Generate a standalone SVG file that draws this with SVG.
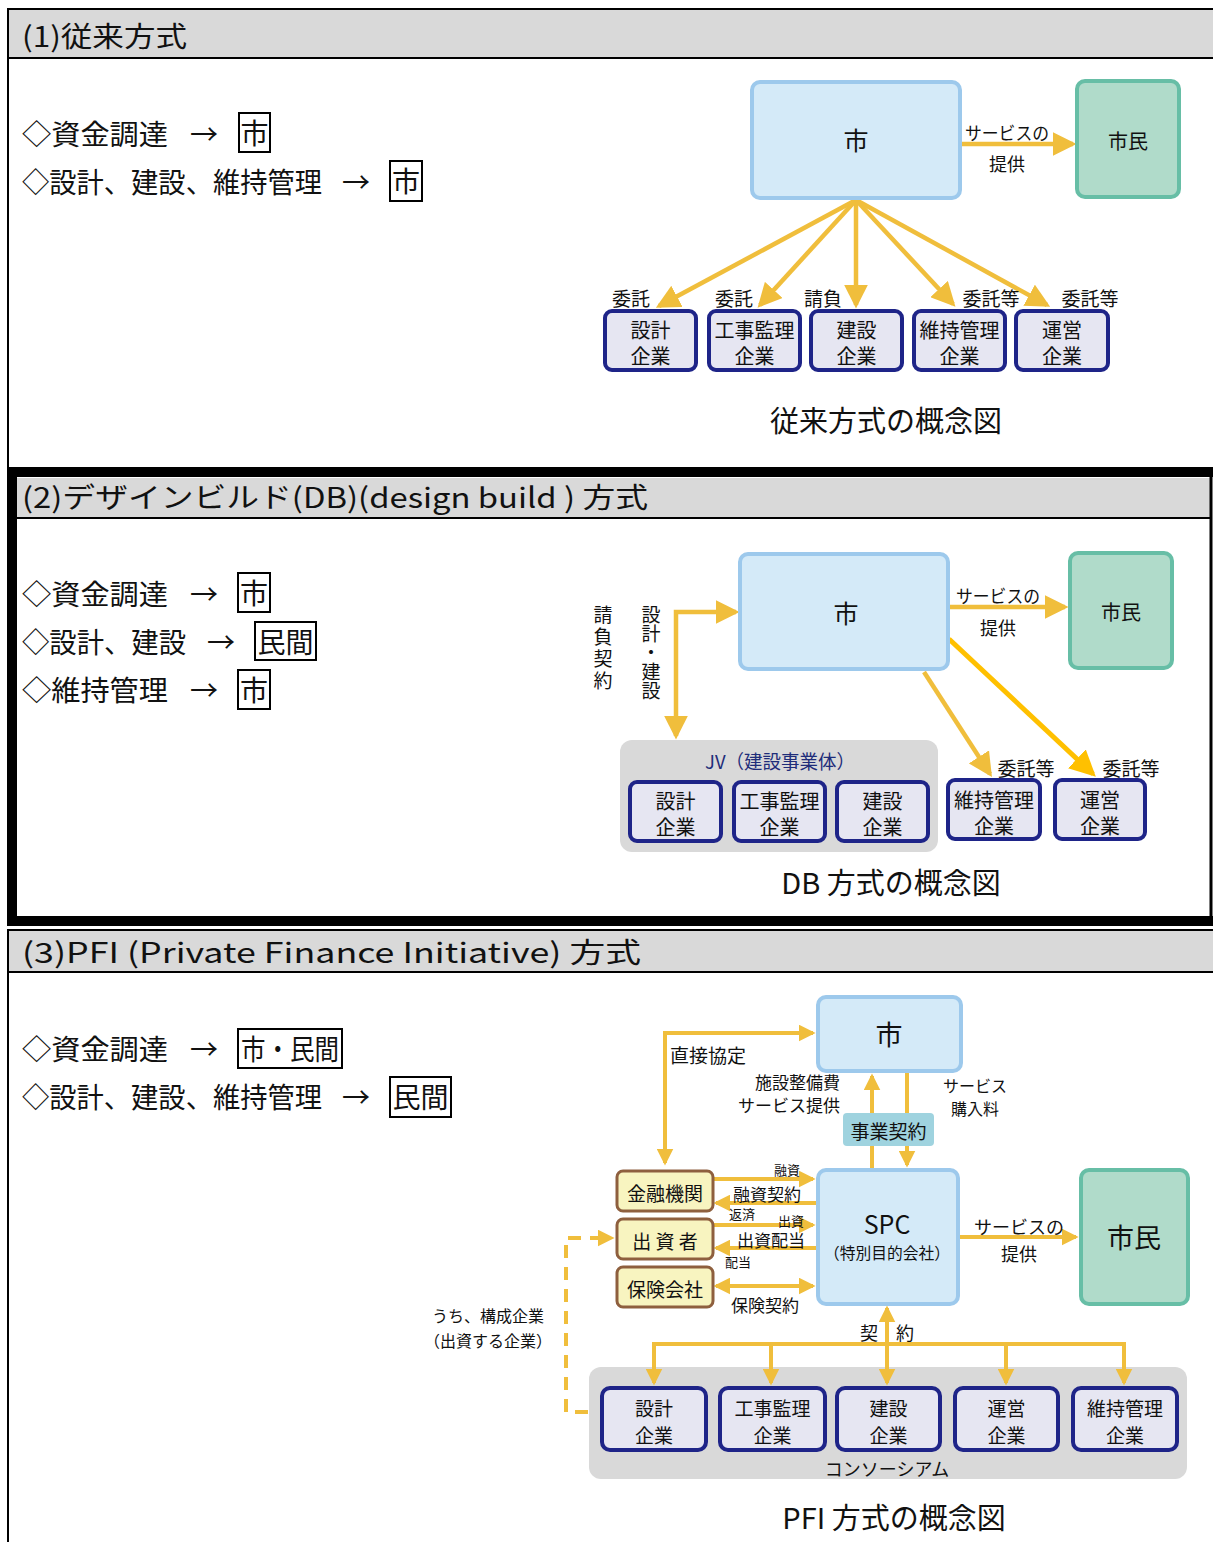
<svg xmlns="http://www.w3.org/2000/svg" width="1213" height="1542" viewBox="0 0 1213 1542">
<style>
text{font-family:"Noto Sans CJK JP","Noto Sans",sans-serif;fill:#111}
.c{text-anchor:middle;dominant-baseline:central}
.hd{font-size:28px}
.lt{font-size:28px}
.bx{fill:none;stroke:#000;stroke-width:2}
.blue{fill:#D4EAF8;stroke:#9DC9EC;stroke-width:4}
.green{fill:#B0DBCA;stroke:#67BEA6;stroke-width:4}
.co{fill:#E6E6F2;stroke:#1E2488;stroke-width:4}
.fin{fill:#F8F4C0;stroke:#8E5F3E;stroke-width:3}
.grp{fill:#D9D9D9}
.a1{fill:none;stroke:#F0BE3C;stroke-width:4.5;marker-end:url(#ah)}
.a3{fill:none;stroke:#F0BE3C;stroke-width:4;marker-end:url(#ahs)}
.bi3{fill:none;stroke:#F0BE3C;stroke-width:4;marker-start:url(#ahs);marker-end:url(#ahs)}
.f20{font-size:20px}
.f19{font-size:19px}
.f18{font-size:18px}
.f17{font-size:17px}
.f16{font-size:16px}
.f13{font-size:13px}
.cap{font-size:29px}
.vt{font-size:19px;writing-mode:vertical-rl}
</style>
<defs>
<marker id="ah" viewBox="0 0 10 10" refX="8.5" refY="5" markerWidth="24" markerHeight="24" markerUnits="userSpaceOnUse" orient="auto-start-reverse"><path d="M0,0 L10,5 L0,10z" fill="#F0BE3C"/></marker>
<marker id="ahy" viewBox="0 0 10 10" refX="8.5" refY="5" markerWidth="26" markerHeight="26" markerUnits="userSpaceOnUse" orient="auto-start-reverse"><path d="M0,0 L10,5 L0,10z" fill="#FFC000"/></marker>
<marker id="ahs" viewBox="0 0 10 10" refX="8.5" refY="5" markerWidth="17" markerHeight="17" markerUnits="userSpaceOnUse" orient="auto-start-reverse"><path d="M0,0 L10,5 L0,10z" fill="#F0BE3C"/></marker>
</defs>
<rect width="1213" height="1542" fill="#fff"/>

<!-- Section 1 frame -->
<g id="sec1-frame">
<line x1="8" y1="8" x2="8" y2="470" stroke="#000" stroke-width="2"/>
<rect x="8" y="9" width="1215" height="49" fill="#D9D9D9" stroke="#000" stroke-width="2"/>
<text x="22" y="47" class="hd" textLength="165" lengthAdjust="spacingAndGlyphs">(1)従来方式</text>
</g>
<g id="sec1-left">
<text x="22" y="145" class="lt" textLength="146" lengthAdjust="spacingAndGlyphs">◇資金調達</text>
<text x="204" y="133" class="lt c">→</text>
<rect x="239" y="113" width="31" height="39" class="bx"/>
<text x="254.5" y="132" class="lt c">市</text>
<text x="22" y="193" class="lt" textLength="300" lengthAdjust="spacingAndGlyphs">◇設計、建設、維持管理</text>
<text x="356" y="181" class="lt c">→</text>
<rect x="390" y="161" width="32" height="40" class="bx"/>
<text x="406" y="180" class="lt c">市</text>
</g>

<g id="sec1-connectors">
<line x1="962" y1="144" x2="1073" y2="144" class="a1"/>
<line x1="856" y1="200" x2="659" y2="306" class="a1"/>
<line x1="856" y1="200" x2="760" y2="305" class="a1"/>
<line x1="856" y1="200" x2="856" y2="305" class="a1"/>
<line x1="856" y1="200" x2="953" y2="304" class="a1"/>
<line x1="856" y1="200" x2="1047" y2="305" class="a1"/>
</g>
<g id="sec1-labels">
<text x="1007" y="132" class="f18 c" textLength="84" lengthAdjust="spacingAndGlyphs">サービスの</text>
<text x="1007" y="163" class="f18 c">提供</text>
<text x="631" y="297" class="f19 c">委託</text>
<text x="734" y="297" class="f19 c">委託</text>
<text x="823" y="297" class="f19 c">請負</text>
<text x="991" y="297" class="f19 c">委託等</text>
<text x="1090" y="297" class="f19 c">委託等</text>
</g>
<g id="s1-shi"><rect x="752" y="82" width="208" height="116" rx="8" class="blue"/><text x="856" y="139" class="c" font-size="25">市</text></g>
<g id="s1-shimin"><rect x="1077" y="81" width="102" height="116" rx="8" class="green"/><text x="1128" y="140" class="c f20">市民</text></g>
<g id="s1-sekkei"><rect x="605" y="311" width="91" height="59" rx="7" class="co"/><text x="650.5" y="329" class="c f20">設計</text><text x="650.5" y="355" class="c f20">企業</text></g>
<g id="s1-kanri"><rect x="709" y="311" width="91" height="59" rx="7" class="co"/><text x="754.5" y="329" class="c f20">工事監理</text><text x="754.5" y="355" class="c f20">企業</text></g>
<g id="s1-kensetsu"><rect x="811" y="311" width="91" height="59" rx="7" class="co"/><text x="856.5" y="329" class="c f20">建設</text><text x="856.5" y="355" class="c f20">企業</text></g>
<g id="s1-iji"><rect x="914" y="311" width="91" height="59" rx="7" class="co"/><text x="959.5" y="329" class="c f20">維持管理</text><text x="959.5" y="355" class="c f20">企業</text></g>
<g id="s1-unei"><rect x="1016" y="311" width="92" height="59" rx="7" class="co"/><text x="1062" y="329" class="c f20">運営</text><text x="1062" y="355" class="c f20">企業</text></g>
<text x="886" y="419" class="cap c">従来方式の概念図</text>

<!-- Section 2 -->
<g id="sec2-frame">
<rect x="12" y="472" width="1215" height="449" fill="none" stroke="#000" stroke-width="10"/>
<rect x="17" y="478" width="1193" height="40" fill="#D9D9D9"/>
<line x1="17" y1="518" x2="1211" y2="518" stroke="#000" stroke-width="2"/>
<line x1="1211" y1="472" x2="1211" y2="918" stroke="#000" stroke-width="3"/>
<text x="22" y="508" class="hd" textLength="626" lengthAdjust="spacingAndGlyphs">(2)デザインビルド(DB)(design build ) 方式</text>
</g>
<g id="sec2-left">
<text x="22" y="605" class="lt" textLength="146" lengthAdjust="spacingAndGlyphs">◇資金調達</text>
<text x="204" y="593" class="lt c">→</text>
<rect x="238" y="573" width="32" height="39" class="bx"/>
<text x="254" y="592" class="lt c">市</text>
<text x="22" y="653" class="lt" textLength="164" lengthAdjust="spacingAndGlyphs">◇設計、建設</text>
<text x="221" y="641" class="lt c">→</text>
<rect x="255" y="622" width="61" height="38" class="bx"/>
<text x="285.5" y="641" class="lt c">民間</text>
<text x="22" y="701" class="lt" textLength="146" lengthAdjust="spacingAndGlyphs">◇維持管理</text>
<text x="204" y="689" class="lt c">→</text>
<rect x="238" y="670" width="32" height="39" class="bx"/>
<text x="254" y="689" class="lt c">市</text>
</g>
<g id="s2-jv">
<rect x="620" y="740" width="318" height="112" rx="12" class="grp"/>
<text x="780" y="760" class="c" font-size="19" style="fill:#1F2D7A" textLength="150" lengthAdjust="spacingAndGlyphs">JV（建設事業体）</text>
</g>
<g id="sec2-connectors">
<path d="M676,736 V612 H736" fill="none" stroke="#F0BE3C" stroke-width="4.5" marker-start="url(#ah)" marker-end="url(#ah)"/>
<line x1="950" y1="607" x2="1065" y2="607" class="a1"/>
<line x1="924" y1="672" x2="990" y2="774" class="a1"/>
<line x1="949" y1="639" x2="1093" y2="774" fill="none" stroke="#FFC000" stroke-width="5" marker-end="url(#ahy)"/>
</g>
<g id="sec2-labels">
<text x="998" y="595" class="f18 c" textLength="84" lengthAdjust="spacingAndGlyphs">サービスの</text>
<text x="998" y="627" class="f18 c">提供</text>
<text x="603" y="605" class="vt" letter-spacing="3">請負契約</text>
<text x="651" y="605" class="vt">設計・建設</text>
<text x="1026" y="767" class="f19 c">委託等</text>
<text x="1131" y="767" class="f19 c">委託等</text>
</g>
<g id="s2-shi"><rect x="740" y="554" width="208" height="115" rx="8" class="blue"/><text x="846" y="612" class="c" font-size="25">市</text></g>
<g id="s2-shimin"><rect x="1070" y="553" width="102" height="115" rx="8" class="green"/><text x="1121" y="611" class="c f20">市民</text></g>
<g id="s2-sekkei"><rect x="630" y="782" width="91" height="59" rx="7" class="co"/><text x="675.5" y="800" class="c f20">設計</text><text x="675.5" y="826" class="c f20">企業</text></g>
<g id="s2-kanri"><rect x="734" y="782" width="91" height="59" rx="7" class="co"/><text x="779.5" y="800" class="c f20">工事監理</text><text x="779.5" y="826" class="c f20">企業</text></g>
<g id="s2-kensetsu"><rect x="837" y="782" width="91" height="59" rx="7" class="co"/><text x="882.5" y="800" class="c f20">建設</text><text x="882.5" y="826" class="c f20">企業</text></g>
<g id="s2-iji"><rect x="948" y="780" width="92" height="59" rx="7" class="co"/><text x="994" y="799" class="c f20">維持管理</text><text x="994" y="825" class="c f20">企業</text></g>
<g id="s2-unei"><rect x="1055" y="780" width="90" height="59" rx="7" class="co"/><text x="1100" y="799" class="c f20">運営</text><text x="1100" y="825" class="c f20">企業</text></g>
<text x="891" y="881" class="cap c">DB 方式の概念図</text>

<!-- Section 3 -->
<g id="sec3-frame">
<line x1="8" y1="930" x2="8" y2="1542" stroke="#000" stroke-width="2"/>
<rect x="8" y="930" width="1215" height="42" fill="#D9D9D9" stroke="#000" stroke-width="2"/>
<text x="22" y="963" class="hd" textLength="619" lengthAdjust="spacingAndGlyphs">(3)PFI (Private Finance Initiative) 方式</text>
</g>
<g id="sec3-left">
<text x="22" y="1060" class="lt" textLength="146" lengthAdjust="spacingAndGlyphs">◇資金調達</text>
<text x="204" y="1048" class="lt c">→</text>
<rect x="238" y="1029" width="104" height="39" class="bx"/>
<text x="290" y="1048" class="lt c" textLength="98" lengthAdjust="spacingAndGlyphs">市・民間</text>
<text x="22" y="1108" class="lt" textLength="300" lengthAdjust="spacingAndGlyphs">◇設計、建設、維持管理</text>
<text x="356" y="1096" class="lt c">→</text>
<rect x="390" y="1077" width="61" height="40" class="bx"/>
<text x="420.5" y="1096" class="lt c">民間</text>
</g>
<g id="s3-consortium">
<rect x="589" y="1367" width="598" height="112" rx="12" class="grp"/>
<text x="887" y="1468" class="c f18">コンソーシアム</text>
</g>
<g id="sec3-connectors">
<path d="M665,1163 V1033 H813" class="bi3"/>
<line x1="872" y1="1168" x2="872" y2="1076" class="a3"/>
<line x1="907" y1="1073" x2="907" y2="1165" class="a3"/>
<line x1="713" y1="1179" x2="813" y2="1179" class="a3"/>
<line x1="817" y1="1203" x2="716" y2="1203" class="a3"/>
<line x1="713" y1="1225" x2="813" y2="1225" class="a3"/>
<line x1="817" y1="1248" x2="716" y2="1248" class="a3"/>
<line x1="716" y1="1286" x2="813" y2="1286" class="bi3"/>
<line x1="959" y1="1237" x2="1076" y2="1237" class="a3"/>
<path d="M588,1412 H566 V1238 H612" fill="none" stroke="#F0BE3C" stroke-width="4" stroke-dasharray="13 9" marker-end="url(#ahs)"/>
<line x1="654" y1="1344" x2="1125" y2="1344" stroke="#F0BE3C" stroke-width="4"/>
<line x1="887" y1="1344" x2="887" y2="1308" class="a3"/>
<line x1="654" y1="1342" x2="654" y2="1383" class="a3"/>
<line x1="771" y1="1344" x2="771" y2="1383" class="a3"/>
<line x1="887" y1="1344" x2="887" y2="1383" class="a3"/>
<line x1="1006" y1="1344" x2="1006" y2="1383" class="a3"/>
<line x1="1124" y1="1342" x2="1124" y2="1383" class="a3"/>
</g>
<g id="sec3-labels">
<text x="670" y="1054" class="f19" dominant-baseline="central">直接協定</text>
<text x="840" y="1081" class="f17" text-anchor="end" dominant-baseline="central">施設整備費</text>
<text x="840" y="1104" class="f17" text-anchor="end" dominant-baseline="central">サービス提供</text>
<text x="975" y="1085" class="f16 c">サービス</text>
<text x="975" y="1108" class="f16 c">購入料</text>
<text x="787" y="1169" class="f13 c">融資</text>
<text x="767" y="1193" class="f17 c">融資契約</text>
<text x="742" y="1213" class="f13 c">返済</text>
<text x="791" y="1220" class="f13 c">出資</text>
<text x="771" y="1239" class="f17 c">出資配当</text>
<text x="738" y="1261" class="f13 c">配当</text>
<text x="765" y="1304" class="f17 c">保険契約</text>
<text x="1019" y="1226" class="f18 c">サービスの</text>
<text x="1019" y="1253" class="f18 c">提供</text>
<text x="869" y="1332" class="f18 c">契</text>
<text x="905" y="1332" class="f18 c">約</text>
<text x="488" y="1315" class="f16 c">うち、構成企業</text>
<text x="488" y="1340" class="f16 c">（出資する企業）</text>
</g>
<g id="s3-jigyo"><rect x="843" y="1113" width="91" height="33" rx="4" fill="#9FD3DF"/><text x="888.5" y="1130" class="c f19">事業契約</text></g>
<g id="s3-shi"><rect x="818" y="997" width="143" height="74" rx="8" class="blue"/><text x="889" y="1033" class="c" font-size="27">市</text></g>
<g id="s3-spc"><rect x="818" y="1170" width="140" height="134" rx="8" class="blue"/><text x="887" y="1223" class="c" font-size="25">SPC</text><text x="887" y="1252" class="c f16" textLength="126" lengthAdjust="spacingAndGlyphs">（特別目的会社）</text></g>
<g id="s3-shimin"><rect x="1081" y="1170" width="107" height="134" rx="8" class="green"/><text x="1134" y="1236" class="c" font-size="27">市民</text></g>
<g id="s3-kinyu"><rect x="617" y="1171" width="96" height="40" rx="6" class="fin"/><text x="665" y="1192" class="c f19">金融機関</text></g>
<g id="s3-shussi"><rect x="617" y="1219" width="96" height="40" rx="6" class="fin"/><text x="665" y="1240" class="c f19">出 資 者</text></g>
<g id="s3-hoken"><rect x="617" y="1267" width="96" height="40" rx="6" class="fin"/><text x="665" y="1288" class="c f19">保険会社</text></g>
<g id="s3-sekkei"><rect x="602" y="1388" width="104" height="62" rx="8" class="co"/><text x="654" y="1407" class="c f19">設計</text><text x="654" y="1434" class="c f19">企業</text></g>
<g id="s3-kanri"><rect x="720" y="1388" width="105" height="62" rx="8" class="co"/><text x="772.5" y="1407" class="c f19">工事監理</text><text x="772.5" y="1434" class="c f19">企業</text></g>
<g id="s3-kensetsu"><rect x="837" y="1388" width="103" height="62" rx="8" class="co"/><text x="888.5" y="1407" class="c f19">建設</text><text x="888.5" y="1434" class="c f19">企業</text></g>
<g id="s3-unei"><rect x="955" y="1388" width="103" height="62" rx="8" class="co"/><text x="1006.5" y="1407" class="c f19">運営</text><text x="1006.5" y="1434" class="c f19">企業</text></g>
<g id="s3-iji"><rect x="1073" y="1388" width="104" height="62" rx="8" class="co"/><text x="1125" y="1407" class="c f19">維持管理</text><text x="1125" y="1434" class="c f19">企業</text></g>
<text x="894" y="1516" class="cap c">PFI 方式の概念図</text>
</svg>
